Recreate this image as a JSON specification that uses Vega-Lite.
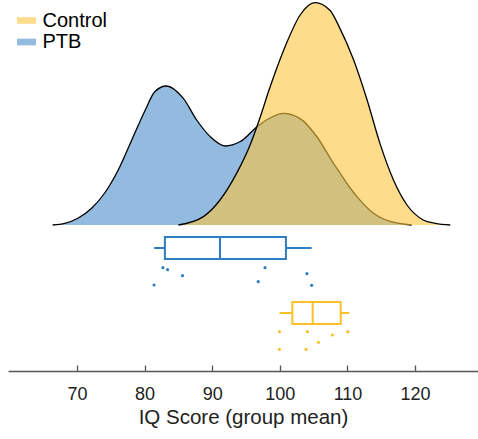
{
  "$schema": "https://vega.github.io/schema/vega-lite/v6.json",
  "autosize": {"type": "none"},
  "width": 470,
  "height": 371,
  "padding": {"left": 8, "top": 0, "right": 0, "bottom": 68},
  "background": "white",
  "config": {
    "view": {"stroke": null},
    "font": "Liberation Sans",
    "axisX": {
      "domainColor": "#555555", "domainWidth": 1.3,
      "tickColor": "#555555", "tickWidth": 1.3, "tickSize": -6,
      "labelFontSize": 18, "labelColor": "#222222", "labelPadding": 20,
      "titleFontSize": 20.5, "titleFontWeight": "normal", "titleColor": "#222222", "titlePadding": 4,
      "grid": false
    }
  },
  "datasets": {
    "density": [
      {"group": "PTB", "iq": 66.4, "density": 0},
      {"group": "PTB", "iq": 68.2, "density": 0.0004},
      {"group": "PTB", "iq": 70.2, "density": 0.00175},
      {"group": "PTB", "iq": 72.2, "density": 0.00425},
      {"group": "PTB", "iq": 74.1, "density": 0.008},
      {"group": "PTB", "iq": 76.1, "density": 0.01375},
      {"group": "PTB", "iq": 78.1, "density": 0.02125},
      {"group": "PTB", "iq": 80.1, "density": 0.02875},
      {"group": "PTB", "iq": 81.5, "density": 0.0333},
      {"group": "PTB", "iq": 83.2, "density": 0.03475},
      {"group": "PTB", "iq": 85.7, "density": 0.0317},
      {"group": "PTB", "iq": 87.7, "density": 0.02625},
      {"group": "PTB", "iq": 89.7, "density": 0.0221},
      {"group": "PTB", "iq": 91.9, "density": 0.01975},
      {"group": "PTB", "iq": 94.1, "density": 0.0208},
      {"group": "PTB", "iq": 96.8, "density": 0.0248},
      {"group": "PTB", "iq": 98.55, "density": 0.02675},
      {"group": "PTB", "iq": 100.5, "density": 0.0279},
      {"group": "PTB", "iq": 103.0, "density": 0.0266},
      {"group": "PTB", "iq": 105.5, "density": 0.022},
      {"group": "PTB", "iq": 107.9, "density": 0.0155},
      {"group": "PTB", "iq": 108.9, "density": 0.013},
      {"group": "PTB", "iq": 110.4, "density": 0.00925},
      {"group": "PTB", "iq": 111.4, "density": 0.0071},
      {"group": "PTB", "iq": 113.8, "density": 0.003},
      {"group": "PTB", "iq": 116.3, "density": 0.00088},
      {"group": "PTB", "iq": 119.5, "density": 0},
      {"group": "Control", "iq": 85.0, "density": 0},
      {"group": "Control", "iq": 88.7, "density": 0.0021},
      {"group": "Control", "iq": 91.15, "density": 0.00625},
      {"group": "Control", "iq": 93.6, "density": 0.0129},
      {"group": "Control", "iq": 95.6, "density": 0.02},
      {"group": "Control", "iq": 97.1, "density": 0.027},
      {"group": "Control", "iq": 98.3, "density": 0.03325},
      {"group": "Control", "iq": 99.5, "density": 0.039},
      {"group": "Control", "iq": 101.0, "density": 0.0455},
      {"group": "Control", "iq": 103.0, "density": 0.0525},
      {"group": "Control", "iq": 105.2, "density": 0.0556},
      {"group": "Control", "iq": 107.4, "density": 0.0537},
      {"group": "Control", "iq": 108.9, "density": 0.0491},
      {"group": "Control", "iq": 110.9, "density": 0.0413},
      {"group": "Control", "iq": 112.9, "density": 0.03125},
      {"group": "Control", "iq": 114.8, "density": 0.0204},
      {"group": "Control", "iq": 116.8, "density": 0.01125},
      {"group": "Control", "iq": 118.8, "density": 0.005},
      {"group": "Control", "iq": 121.2, "density": 0.00125},
      {"group": "Control", "iq": 123.0, "density": 0.0004},
      {"group": "Control", "iq": 125.2, "density": 0}
    ],
    "boxes": [
      {"group": "PTB", "lower": 81.4, "q1": 83.0, "median": 91.15, "q3": 100.9, "upper": 104.7},
      {"group": "Control", "lower": 99.95, "q1": 101.85, "median": 104.85, "q3": 109.0, "upper": 110.25}
    ],
    "points": [
      {"group": "PTB", "iq": 82.7, "jitter": 0.085},
      {"group": "PTB", "iq": 83.4, "jitter": 0.185},
      {"group": "PTB", "iq": 85.6, "jitter": 0.485},
      {"group": "PTB", "iq": 81.4, "jitter": 0.95},
      {"group": "PTB", "iq": 97.8, "jitter": 0.085},
      {"group": "PTB", "iq": 96.8, "jitter": 0.785},
      {"group": "PTB", "iq": 104.0, "jitter": 0.385},
      {"group": "PTB", "iq": 104.7, "jitter": 0.965},
      {"group": "Control", "iq": 99.93, "jitter": 0.035},
      {"group": "Control", "iq": 104.07, "jitter": 0.035},
      {"group": "Control", "iq": 107.77, "jitter": 0.2},
      {"group": "Control", "iq": 105.7, "jitter": 0.565},
      {"group": "Control", "iq": 110.04, "jitter": 0.035},
      {"group": "Control", "iq": 99.93, "jitter": 0.915},
      {"group": "Control", "iq": 103.88, "jitter": 0.915}
    ]
  },
  "layer": [
    {
      "data": {"name": "density"},
      "encoding": {
        "x": {"field": "iq", "type": "quantitative", "title": "IQ Score (group mean)",
              "scale": {"domain": [59.8, 129.3], "nice": false, "zero": false},
              "axis": {"values": [70, 80, 90, 100, 110, 120]}},
        "y": {"field": "density", "type": "quantitative", "stack": null,
              "scale": {"domain": [-0.0365, 0.05625], "nice": false, "zero": false}, "axis": null}
      },
      "layer": [
        {
          "transform": [{"filter": "datum.group === 'PTB'"}],
          "mark": {"type": "area", "interpolate": "monotone", "fillOpacity": 0.6},
          "encoding": {
            "fill": {"field": "group", "type": "nominal",
                     "scale": {"domain": ["Control", "PTB"], "range": ["#FBC53E", "#4B8CCA"]},
                     "legend": {"title": null, "orient": "none", "legendX": 8.5, "legendY": 10.5,
                                "symbolType": "M-1,-0.35H1V0.35H-1Z", "symbolSize": 361,
                                "symbolOpacity": 0.6, "symbolStrokeWidth": 0,
                                "labelFontSize": 20, "labelColor": "black", "labelOffset": 6,
                                "rowPadding": 1.5}}
          }
        },
        {
          "transform": [{"filter": "datum.group === 'PTB'"}],
          "mark": {"type": "line", "interpolate": "monotone", "color": "black", "strokeWidth": 1.3}
        },
        {
          "transform": [{"filter": "datum.group === 'Control'"}],
          "mark": {"type": "area", "interpolate": "monotone", "fillOpacity": 0.6},
          "encoding": {
            "fill": {"field": "group", "type": "nominal",
                     "scale": {"domain": ["Control", "PTB"], "range": ["#FBC53E", "#4B8CCA"]}}
          }
        },
        {
          "transform": [{"filter": "datum.group === 'Control'"}],
          "mark": {"type": "line", "interpolate": "monotone", "color": "black", "strokeWidth": 1.3}
        }
      ]
    },
    {
      "layer": [
        {
          "data": {"name": "boxes"},
          "mark": {"type": "rule", "strokeWidth": 2},
          "encoding": {
            "x": {"field": "lower", "type": "quantitative", "title": "IQ Score (group mean)",
                  "scale": {"domain": [59.8, 129.3], "nice": false, "zero": false},
                  "axis": {"values": [70, 80, 90, 100, 110, 120]}},
            "x2": {"field": "upper"},
            "y": {"field": "group", "type": "nominal",
                  "scale": {"type": "point", "domain": ["PTB", "Control"], "range": [248, 313], "padding": 0},
                  "axis": null},
            "stroke": {"field": "group", "type": "nominal",
                       "scale": {"domain": ["PTB", "Control"], "range": ["#2F7DC1", "#F8C029"]}, "legend": null}
          }
        },
        {
          "data": {"name": "boxes"},
          "mark": {"type": "bar", "size": 22, "fill": "white", "strokeWidth": 2},
          "encoding": {
            "x": {"field": "q1", "type": "quantitative", "title": "IQ Score (group mean)",
                  "scale": {"domain": [59.8, 129.3], "nice": false, "zero": false},
                  "axis": {"values": [70, 80, 90, 100, 110, 120]}},
            "x2": {"field": "q3"},
            "y": {"field": "group", "type": "nominal",
                  "scale": {"type": "point", "domain": ["PTB", "Control"], "range": [248, 313], "padding": 0},
                  "axis": null},
            "stroke": {"field": "group", "type": "nominal",
                       "scale": {"domain": ["PTB", "Control"], "range": ["#2F7DC1", "#F8C029"]}, "legend": null}
          }
        },
        {
          "data": {"name": "boxes"},
          "mark": {"type": "tick", "size": 22, "thickness": 2, "orient": "vertical", "opacity": 1},
          "encoding": {
            "x": {"field": "median", "type": "quantitative", "title": "IQ Score (group mean)",
                  "scale": {"domain": [59.8, 129.3], "nice": false, "zero": false},
                  "axis": {"values": [70, 80, 90, 100, 110, 120]}},
            "y": {"field": "group", "type": "nominal",
                  "scale": {"type": "point", "domain": ["PTB", "Control"], "range": [248, 313], "padding": 0},
                  "axis": null},
            "color": {"field": "group", "type": "nominal",
                      "scale": {"domain": ["PTB", "Control"], "range": ["#2F7DC1", "#F8C029"]}, "legend": null}
          }
        },
        {
          "data": {"name": "points"},
          "mark": {"type": "circle", "size": 10, "opacity": 1},
          "encoding": {
            "x": {"field": "iq", "type": "quantitative", "title": "IQ Score (group mean)",
                  "scale": {"domain": [59.8, 129.3], "nice": false, "zero": false},
                  "axis": {"values": [70, 80, 90, 100, 110, 120]}},
            "y": {"field": "group", "type": "nominal",
                  "scale": {"type": "point", "domain": ["PTB", "Control"], "range": [248, 313], "padding": 0},
                  "axis": null},
            "yOffset": {"field": "jitter", "type": "quantitative",
                        "scale": {"domain": [0, 1], "range": [18, 38]}},
            "color": {"field": "group", "type": "nominal",
                      "scale": {"domain": ["PTB", "Control"], "range": ["#2F7DC1", "#F8C029"]}, "legend": null}
          }
        }
      ]
    }
  ],
  "resolve": {"scale": {"y": "independent"}}
}
